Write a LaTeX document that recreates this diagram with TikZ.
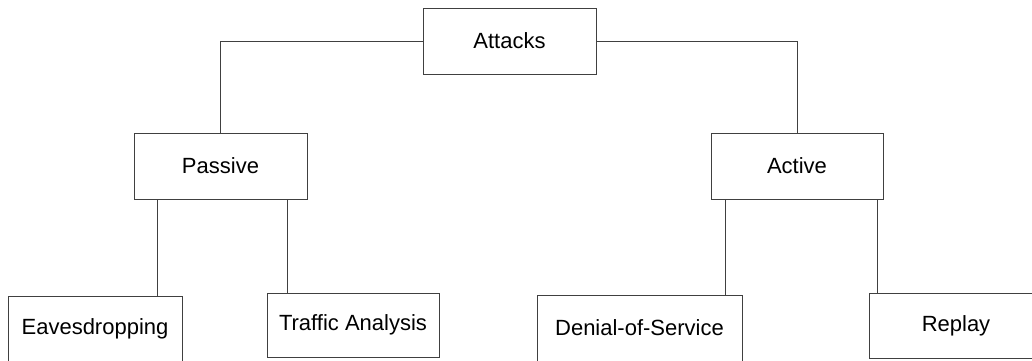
\documentclass[tikz,border=0pt]{standalone}
\usepackage{fontspec}
\setmainfont{Liberation Sans}
\usepackage{tikz}

\begin{document}
\begin{tikzpicture}[x=1pt,y=-1pt,
    catbox/.style={draw=black!75,line width=0.9pt,fill=white,inner sep=0pt,
        font=\fontsize{22}{26}\selectfont},
    link/.style={draw=black!75,line width=0.9pt}]
                % Fix the page size
                \useasboundingbox (0,0) rectangle (1032,360);

                % Root node
                \node[catbox,minimum width=173,minimum height=66] (attacks) at (509.5,41) {Attacks};

                % Two classes of attack
                \node[catbox,minimum width=173,minimum height=66] (passive) at (220.5,166) {Passive};
                \node[catbox,minimum width=172,minimum height=66] (active) at (797,166) {Active};

                % Leaves
                \node[catbox,minimum width=174,minimum height=66] (eaves) at (95,329) {Eavesdropping};
                \node[catbox,minimum width=172,minimum height=64] (traffic) at (353,325) {Traffic Analysis};
                \node[catbox,minimum width=205,minimum height=66] (dos) at (639.5,328) {Denial-of-Service};
                \node[catbox,minimum width=174,minimum height=65] (replay) at (956,325.5) {Replay};

                % Links from the root
                \draw[link] (attacks.west) -| (passive.north);
                \draw[link] (attacks.east) -| (active.north);

                % Links to the leaves
                \draw[link] ([xshift=24]passive.south west) -- ([xshift=24]passive.south west |- eaves.north);
                \draw[link] ([xshift=-20]passive.south east) -- ([xshift=-20]passive.south east |- traffic.north);
                \draw[link] ([xshift=15]active.south west) -- ([xshift=15]active.south west |- dos.north);
                \draw[link] ([xshift=-6.5]active.south east) -- ([xshift=-6.5]active.south east |- replay.north);

            \end{tikzpicture}
\end{document}
